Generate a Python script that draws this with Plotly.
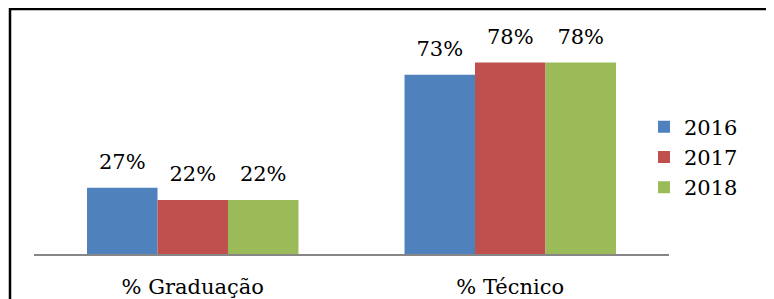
import plotly.graph_objects as go

categories = ["% Graduação", "% Técnico"]
years = ["2016", "2017", "2018"]
values_2016 = [0.27, 0.73]
values_2017 = [0.22, 0.78]
values_2018 = [0.22, 0.78]
colors = ["#4F81BD", "#C0504D", "#9BBB59"]

series = [values_2016, values_2017, values_2018]
FONT = "DejaVu Serif"

# plot area in figure pixels
L, R, T, B, W, H = 26, 113, 25, 53, 774, 299
PW, PH = W - L - R, H - T - B

def px_x(x):
    return (x - L) / PW

def px_y(y):
    return 1 - (y - T) / PH

fig = go.Figure()
for name, vals, col in zip(years, series, colors):
    fig.add_trace(go.Bar(
        x=categories, y=vals, name=name, marker_color=col,
        marker_line_width=0, offsetgroup=name, alignmentgroup="a",
    ))
for name, vals in zip(years, series):
    fig.add_trace(go.Scatter(
        x=categories, y=vals, mode="markers+text",
        text=[f"{round(v*100)}%" for v in vals],
        textposition="top center",
        textfont=dict(family=FONT, size=21, color="black"),
        marker=dict(size=20, color="rgba(0,0,0,0)"),
        offsetgroup=name, alignmentgroup="a",
        showlegend=False, hoverinfo="skip", cliponaxis=False,
    ))

fig.update_layout(
    width=W, height=H,
    margin=dict(l=L, r=R, t=T, b=B, autoexpand=False),
    plot_bgcolor="white", paper_bgcolor="white",
    barmode="group", bargap=0.334, bargroupgap=0,
    scattermode="group", scattergap=0.334,
    showlegend=True,
    legend=dict(x=px_x(636), xanchor="left", y=px_y(149), yanchor="middle",
                font=dict(family=FONT, size=21, color="black"),
                bgcolor="rgba(0,0,0,0)", tracegroupgap=0),
    font=dict(family=FONT, color="black"),
    shapes=[
        dict(type="line", xref="paper", yref="paper",
             x0=px_x(1), x1=px_x(800), y0=px_y(1), y1=px_y(1),
             line=dict(color="black", width=2.5)),
        dict(type="line", xref="paper", yref="paper",
             x0=px_x(2), x1=px_x(2), y0=px_y(0), y1=px_y(320),
             line=dict(color="black", width=2.5)),
    ],
)
fig.update_xaxes(showline=True, linecolor="#868686", linewidth=2,
                 ticks="", tickfont=dict(family=FONT, size=21, color="black"),
                 ticklabelstandoff=13, showgrid=False, automargin=False)
fig.update_yaxes(range=[0, 0.9], visible=False, showgrid=False, automargin=False)

fig.write_html("out.html")
